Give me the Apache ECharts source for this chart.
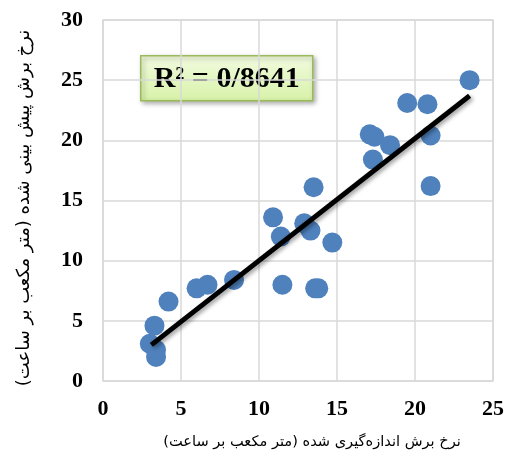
<!DOCTYPE html>
<html><head><meta charset="utf-8">
<script src="https://cdn.jsdelivr.net/npm/echarts@6/dist/echarts.min.js"></script>
<style>html,body{margin:0;padding:0;background:#fff}#c{width:509px;height:463px}</style>
</head><body><div id="c"></div>
<script>
// measured vs predicted cutting rate
const measured  = [23.5, 19.5, 20.8, 21.0, 17.1, 17.4, 18.4, 17.3, 13.5, 21.0, 10.9, 11.4, 12.9, 13.3, 14.7, 11.5, 13.6, 13.8, 8.4, 6.0, 6.7, 4.2, 3.3, 3.0, 3.4, 3.4];
const predicted = [25.0, 23.1, 23.0, 20.4, 20.5, 20.3, 19.6, 18.4, 16.1, 16.2, 13.6, 12.0, 13.1, 12.5, 11.5, 8.0, 7.7, 7.7, 8.4, 7.7, 8.0, 6.6, 4.6, 3.1, 2.6, 2.0];
const trendX = [3.1, 23.5];
const trendY = [3.0, 23.7];
const xTicks = [0, 5, 10, 15, 20, 25];
const yTicks = [0, 5, 10, 15, 20, 25, 30];
const r2Text = 'R² = 0/8641';
const xTitle = 'نرخ برش اندازه‌گیری شده (متر مکعب بر ساعت)';
const yTitle = 'نرخ برش پیش بینی شده (متر مکعب بر ساعت)';

const chart = echarts.init(document.getElementById('c'));
const labelStyle = {fontFamily: 'Liberation Serif', fontWeight: 'bold', fontSize: 22, color: '#000'};
const gridLine = {show: true, lineStyle: {color: '#d9d9d9', width: 1.5}};
chart.setOption({
  animation: false,
  grid: {left: 103, right: 16, top: 20, bottom: 82, show: true, borderColor: '#d9d9d9', borderWidth: 1.5},
  xAxis: {type: 'value', min: xTicks[0], max: xTicks[xTicks.length-1], interval: 5,
    axisLine: {show: false}, axisTick: {show: false}, splitLine: gridLine,
    axisLabel: Object.assign({margin: 17}, labelStyle)},
  yAxis: {type: 'value', min: yTicks[0], max: yTicks[yTicks.length-1], interval: 5,
    axisLine: {show: false}, axisTick: {show: false}, splitLine: gridLine,
    axisLabel: Object.assign({margin: 20}, labelStyle)},
  series: [
    {type: 'scatter', data: measured.map((x, i) => [x, predicted[i]]), symbolSize: 20,
     itemStyle: {color: '#4F81BD', opacity: 1}, z: 2},
    {type: 'line', data: trendX.map((x, i) => [x, trendY[i]]), symbol: 'none',
     lineStyle: {color: '#000', width: 5, shadowColor: 'rgba(0,0,0,0.4)', shadowBlur: 4, shadowOffsetX: 2, shadowOffsetY: 2}, z: 3}
  ],
  graphic: [
    {type: 'group', left: 140, top: 55, children: [
      {type: 'rect', shape: {x: 0, y: 0, width: 172, height: 45},
       style: {fill: new echarts.graphic.LinearGradient(0, 0, 0, 1, [{offset: 0, color: '#f2fbe0'}, {offset: 1, color: '#d7f2a8'}]),
         stroke: '#9bbb59', lineWidth: 1.5, shadowColor: 'rgba(0,0,0,0.35)', shadowBlur: 5, shadowOffsetX: 2, shadowOffsetY: 2}},
      {type: 'text', x: 86, y: 23, style: {text: r2Text, fontFamily: 'Liberation Serif', fontWeight: 'bold', fontSize: 30, fill: '#000', align: 'center', verticalAlign: 'middle'}}
    ]},
    {type: 'text', x: 312, y: 442, style: {text: xTitle, fontFamily: 'DejaVu Sans', fontSize: 14.6, fill: '#000', align: 'center', verticalAlign: 'middle'}},
    {type: 'text', x: 24, y: 208, rotation: Math.PI / 2, style: {text: yTitle, fontFamily: 'DejaVu Sans', fontSize: 18, fill: '#000', align: 'center', verticalAlign: 'middle'}}
  ]
});
</script></body></html>
